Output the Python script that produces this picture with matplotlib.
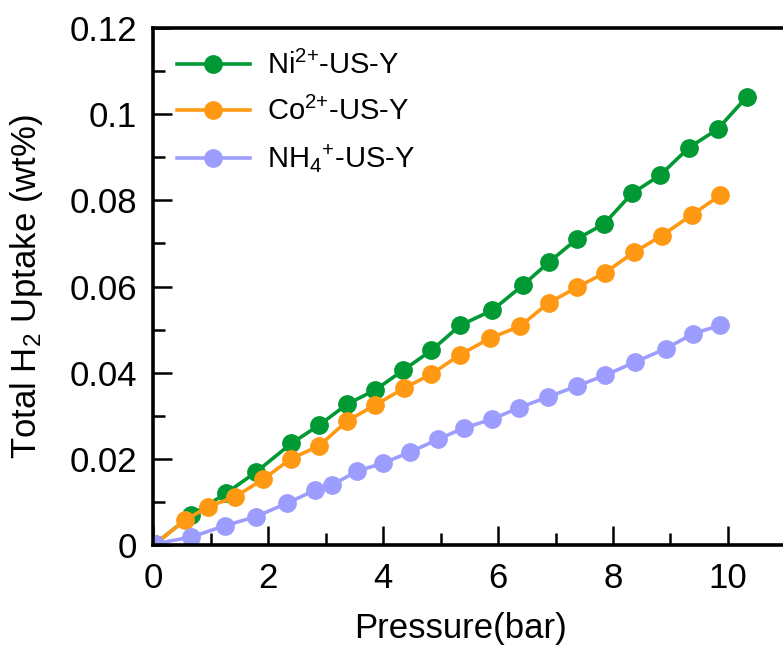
import numpy as np
import matplotlib
matplotlib.use('Agg')
import matplotlib.pyplot as plt
from matplotlib.ticker import MultipleLocator, FuncFormatter

plt.rcParams['font.family'] = ['Liberation Sans', 'DejaVu Sans']
plt.rcParams['mathtext.fontset'] = 'custom'
plt.rcParams['mathtext.rm'] = 'Liberation Sans'
plt.rcParams['mathtext.it'] = 'Liberation Sans'

# Ni2+-US-Y
ni_p = [0.03, 0.66, 1.26, 1.79, 2.40, 2.88, 3.37, 3.86, 4.35, 4.84, 5.34, 5.90, 6.43, 6.89, 7.37, 7.85, 8.33, 8.82, 9.32, 9.82, 10.33]
ni_u = [0.0003, 0.0070, 0.0120, 0.0170, 0.0236, 0.0278, 0.0327, 0.0360, 0.0406, 0.0452, 0.0510, 0.0545, 0.0603, 0.0657, 0.0710, 0.0746, 0.0816, 0.0858, 0.0922, 0.0965, 0.1040]
# Co2+-US-Y
co_p = [0.03, 0.55, 0.95, 1.42, 1.91, 2.40, 2.88, 3.37, 3.86, 4.36, 4.84, 5.34, 5.86, 6.38, 6.88, 7.37, 7.86, 8.36, 8.85, 9.37, 9.87]
co_u = [0.0003, 0.0058, 0.0089, 0.0112, 0.0153, 0.0201, 0.0230, 0.0288, 0.0325, 0.0364, 0.0397, 0.0442, 0.0480, 0.0508, 0.0562, 0.0598, 0.0632, 0.0679, 0.0718, 0.0766, 0.0812]
# NH4+-US-Y
nh_p = [0.03, 0.66, 1.24, 1.78, 2.32, 2.82, 3.10, 3.55, 3.99, 4.47, 4.96, 5.41, 5.89, 6.37, 6.87, 7.37, 7.86, 8.39, 8.92, 9.40, 9.87]
nh_u = [0.0003, 0.0019, 0.0045, 0.0066, 0.0097, 0.0128, 0.0139, 0.0172, 0.0190, 0.0216, 0.0246, 0.0272, 0.0292, 0.0319, 0.0344, 0.0369, 0.0394, 0.0425, 0.0456, 0.0491, 0.0510]

fig = plt.figure(figsize=(7.83, 6.49), dpi=100)
ax = fig.add_axes([0.196, 0.160, 0.804, 0.797])

ax.plot(ni_p, ni_u, '-o', color='#009933', lw=2.6, ms=12.5, label=r'Ni$^{2{+}}$-US-Y')
ax.plot(co_p, co_u, '-o', color='#ff9914', lw=2.6, ms=12.5, label=r'Co$^{2{+}}$-US-Y')
ax.plot(nh_p, nh_u, '-o', color='#9d9dff', lw=2.6, ms=12.5, label=r'NH$_4$$^{+}$-US-Y')

ax.set_xlim(0, 10.96)
ax.set_ylim(0, 0.12)
ax.xaxis.set_major_locator(MultipleLocator(2))
ax.xaxis.set_minor_locator(MultipleLocator(1))
ax.yaxis.set_major_locator(MultipleLocator(0.02))
ax.yaxis.set_minor_locator(MultipleLocator(0.01))
ax.yaxis.set_major_formatter(FuncFormatter(lambda v, p: '%g' % round(v, 4)))

for s in ['left', 'bottom', 'top']:
    ax.spines[s].set_linewidth(2.6)
ax.spines['right'].set_visible(False)
ax.tick_params(which='both', direction='in', width=1.8, labelsize=25, top=False, right=False)
ax.tick_params(which='major', length=13.5, pad=12)
ax.tick_params(which='minor', length=8.5)

ax.set_xlabel('Pressure(bar)', fontsize=25)
ax.set_ylabel(r'Total H$_2$ Uptake (wt%)', fontsize=25)
ax.xaxis.set_label_coords(0.487, -0.129)
ax.yaxis.set_label_coords(-0.172, 0.5)

ax.legend(loc='upper left', fontsize=21, frameon=False, handlelength=2.5, labelspacing=0.57,
          handletextpad=0.6, borderpad=0.3, bbox_to_anchor=(0.0, 1.0))

fig.savefig('out.png', dpi=100)
